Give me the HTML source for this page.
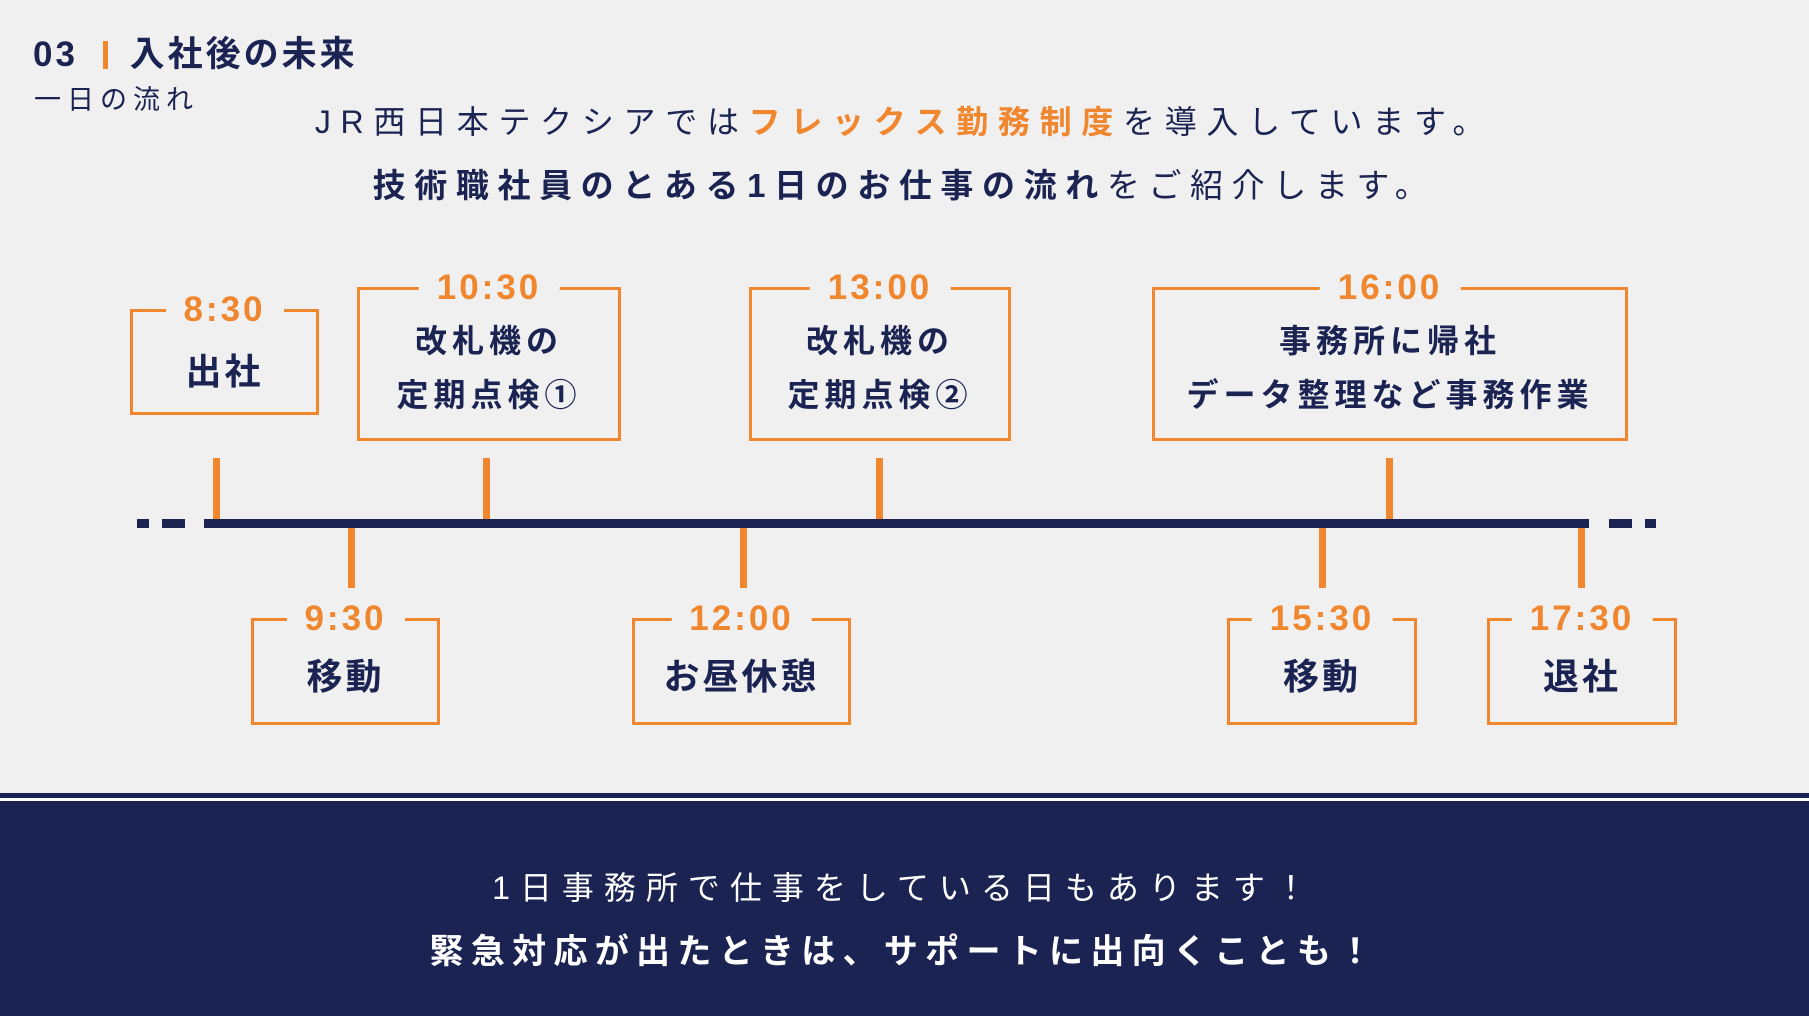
<!DOCTYPE html>
<html><head><meta charset="utf-8"><style>
html,body{margin:0;padding:0}
body{width:1809px;height:1016px;background:#f0f0f0;position:relative;overflow:hidden;font-family:"Liberation Sans","Noto Sans CJK JP",sans-serif;color:#1a2352}
.a{position:absolute}
.c{position:absolute;left:0;width:1809px;text-align:center;white-space:nowrap}
.box{position:absolute;border:3.5px solid #f0862e;box-sizing:border-box;text-align:center;font-weight:bold;color:#1a2352}
.t{position:absolute;left:50%;transform:translateX(-50%);top:-24px;background:#f0f0f0;color:#f0862e;font-size:35px;font-weight:bold;letter-spacing:3px;padding:0 18px;line-height:44px;white-space:nowrap}
.o{background:#f0862e}
.n{background:#1a2352}
</style></head><body>
<div class="a" style="left:33px;top:26px;font-size:35px;font-weight:bold;letter-spacing:3px;white-space:nowrap">03 <span style="display:inline-block;width:5px;height:28px;background:#f0862e;vertical-align:-3px;margin:0 22px 0 12px"></span>入社後の未来</div>
<div class="a" style="left:34px;top:78px;font-size:27px;letter-spacing:6px;white-space:nowrap">一日の流れ</div>
<div class="c" style="top:100px;font-size:32px;letter-spacing:9.7px;line-height:44px">JR西日本テクシアでは<b style="color:#f0862e">フレックス勤務制度</b>を導入しています。</div>
<div class="c" style="top:164px;font-size:33px;letter-spacing:8.6px;line-height:44px"><b>技術職社員のとある1日のお仕事の流れ</b>をご紹介します。</div>

<!-- timeline -->
<div class="a n" style="left:204px;top:519px;width:1385px;height:9px"></div>
<div class="a n" style="left:137px;top:519px;width:12px;height:9px"></div>
<div class="a n" style="left:162px;top:519px;width:23px;height:9px"></div>
<div class="a n" style="left:1609px;top:519px;width:23px;height:9px"></div>
<div class="a n" style="left:1645px;top:519px;width:11px;height:9px"></div>
<div class="a o" style="left:213px;top:458px;width:7px;height:61px"></div>
<div class="a o" style="left:483px;top:458px;width:7px;height:61px"></div>
<div class="a o" style="left:876px;top:458px;width:7px;height:61px"></div>
<div class="a o" style="left:1386px;top:458px;width:7px;height:61px"></div>
<div class="a o" style="left:348px;top:528px;width:7px;height:60px"></div>
<div class="a o" style="left:740px;top:528px;width:7px;height:60px"></div>
<div class="a o" style="left:1319px;top:528px;width:7px;height:60px"></div>
<div class="a o" style="left:1578px;top:528px;width:7px;height:60px"></div>

<div class="box" style="left:130px;top:309px;width:189px;height:106px"><div class="t">8:30</div><div style="font-size:36px;letter-spacing:3px;margin-top:31px">出社</div></div>
<div class="box" style="left:357px;top:287px;width:264px;height:154px"><div class="t">10:30</div><div style="font-size:32px;letter-spacing:5px;line-height:54px;margin-top:24px">改札機の<br>定期点検①</div></div>
<div class="box" style="left:749px;top:287px;width:262px;height:154px"><div class="t">13:00</div><div style="font-size:32px;letter-spacing:5px;line-height:54px;margin-top:24px">改札機の<br>定期点検②</div></div>
<div class="box" style="left:1152px;top:287px;width:476px;height:154px"><div class="t">16:00</div><div style="font-size:32px;letter-spacing:5px;line-height:54px;margin-top:24px">事務所に帰社<br>データ整理など事務作業</div></div>

<div class="box" style="left:251px;top:618px;width:189px;height:107px"><div class="t">9:30</div><div style="font-size:36px;letter-spacing:3px;margin-top:27px">移動</div></div>
<div class="box" style="left:632px;top:618px;width:219px;height:107px"><div class="t">12:00</div><div style="font-size:36px;letter-spacing:3px;margin-top:27px">お昼休憩</div></div>
<div class="box" style="left:1227px;top:618px;width:190px;height:107px"><div class="t">15:30</div><div style="font-size:36px;letter-spacing:3px;margin-top:27px">移動</div></div>
<div class="box" style="left:1487px;top:618px;width:190px;height:107px"><div class="t">17:30</div><div style="font-size:36px;letter-spacing:3px;margin-top:27px">退社</div></div>

<!-- bottom band -->
<div class="a n" style="left:0;top:793px;width:1809px;height:5px"></div>
<div class="a" style="left:0;top:798px;width:1809px;height:3px;background:#fff"></div>
<div class="a n" style="left:0;top:801px;width:1809px;height:215px"></div>
<div class="c" style="top:866px;font-size:32px;letter-spacing:10px;color:#fff;line-height:44px">1日事務所で仕事をしている日もあります！</div>
<div class="c" style="top:930px;font-size:34px;letter-spacing:7.3px;color:#fff;font-weight:bold;line-height:44px">緊急対応が出たときは、サポートに出向くことも！</div>
</body></html>
